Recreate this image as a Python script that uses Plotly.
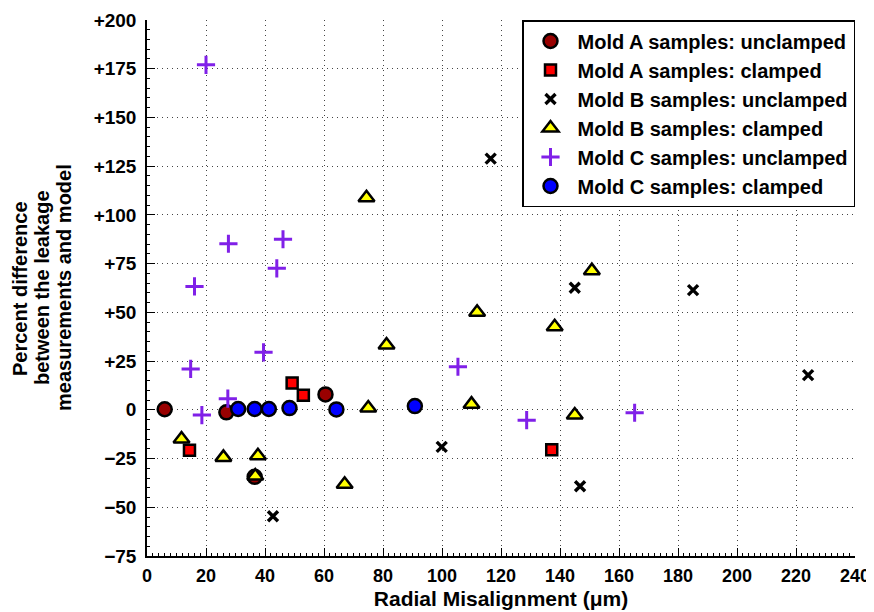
import plotly.graph_objects as go

# ---- data ----
a_unc_x = [6.0, 26.9, 36.5, 60.5]
a_unc_y = [0.3, -1.3, -34.4, 7.9]

a_cl_x = [14.4, 49.2, 53.0, 137.2]
a_cl_y = [-20.7, 13.7, 7.5, -20.5]

b_unc_x = [116.5, 145.0, 185.1, 224.1, 146.8, 99.9, 42.7]
b_unc_y = [128.9, 62.6, 61.4, 17.8, -39.2, -19.0, -54.6]

b_cl_x = [74.4, 111.9, 81.2, 150.8, 138.2, 145.0, 75.0, 110.0, 11.7, 25.9, 37.6, 36.7, 67.0]
b_cl_y = [108.8, 50.0, 33.2, 71.4, 42.6, -2.7, 0.9, 2.9, -15.0, -24.4, -23.6, -34.0, -38.2]

c_unc_x = [20.0, 27.6, 46.1, 44.0, 16.1, 39.5, 14.8, 105.4, 27.4, 18.6, 128.7, 165.3]
c_unc_y = [177.0, 85.2, 87.5, 72.6, 63.3, 29.5, 21.0, 22.1, 5.7, -2.7, -5.3, -1.5]

c_cl_x = [30.9, 36.5, 41.3, 48.3, 64.2, 90.8]
c_cl_y = [0.4, 0.4, 0.4, 0.9, 0.2, 1.9]

x_ticks = list(range(0, 241, 20))
y_ticks = [200, 175, 150, 125, 100, 75, 50, 25, 0, -25, -50, -75]
y_tick_text = ["+200", "+175", "+150", "+125", "+100", "+75", "+50", "+25", "0",
               "\u221225", "\u221250", "\u221275"]

x_title = "Radial Misalignment (\u03bcm)"
y_title_lines = ["Percent difference", "between the leakage", "measurements and model"]

FONT = "Liberation Sans"

fig = go.Figure()

def add(name, xs, ys, symbol, size, fill, lw, lc="black"):
    fig.add_trace(go.Scatter(
        x=xs, y=ys, mode="markers", name=name,
        marker=dict(symbol=symbol, size=size, color=fill,
                    line=dict(width=lw, color=lc)),
    ))

add("Mold A samples: unclamped", a_unc_x, a_unc_y, "circle", 14, "#990000", 2.5)
add("Mold A samples: clamped", a_cl_x, a_cl_y, "square", 11, "#ff0000", 2.5)
add("Mold B samples: unclamped", b_unc_x, b_unc_y, "x-thin", 10, "black", 3.4)
add("Mold B samples: clamped", b_cl_x, b_cl_y, "triangle-up", 14, "#ffff00", 2.5)
add("Mold C samples: unclamped", c_unc_x, c_unc_y, "cross-thin", 13, "#8020e8", 3, lc="#8020e8")
add("Mold C samples: clamped", c_cl_x, c_cl_y, "circle", 14, "#0000ff", 2.5)

axis_common = dict(
    showline=True, linecolor="black", linewidth=1.5,
    ticks="inside", ticklen=8, tickwidth=1, tickcolor="black",
    showgrid=True, gridcolor="#444444", gridwidth=1, griddash="1px,4px",
    zeroline=False, mirror=False,
)

fig.update_xaxes(
    range=[0, 240], tickvals=x_ticks, ticktext=[str(v) for v in x_ticks],
    minor=dict(ticks="inside", ticklen=3, dtick=2, tickcolor="black", showgrid=False),
    tickfont=dict(family=FONT, size=18, color="black", weight="bold"),
    ticklabelstandoff=3,
    title=dict(text=x_title, standoff=6,
               font=dict(family=FONT, size=21, color="black", weight="bold")),
    **axis_common,
)
fig.update_yaxes(
    range=[-75, 200], tickvals=y_ticks, ticktext=y_tick_text,
    minor=dict(ticks="inside", ticklen=3, dtick=5, tickcolor="black", showgrid=False),
    tickfont=dict(family=FONT, size=19, color="black", weight="bold"),
    ticklabelstandoff=5,
    **axis_common,
)

# page body adds an 8 px margin, so the figure is offset by 8 px
OFF = 8
PLOT_L, PLOT_R, PLOT_T, PLOT_B = 147, 855, 20, 556   # plot area in page pixels
FIG_W, FIG_H = 874 - OFF, 612 - OFF
PLOT_W = PLOT_R - PLOT_L

# y-axis title as three rotated lines (tight MATLAB-like line spacing)
for line, px in zip(y_title_lines, [20, 42, 64]):
    fig.add_annotation(
        text=line, textangle=-90, showarrow=False,
        xref="paper", yref="paper",
        x=(px - PLOT_L) / PLOT_W, y=0.5, xanchor="center", yanchor="middle",
        font=dict(family=FONT, size=20, color="black", weight="bold"),
    )

fig.update_layout(
    width=FIG_W, height=FIG_H,
    margin=dict(l=PLOT_L - OFF, r=FIG_W - (PLOT_R - OFF), t=PLOT_T - OFF,
                b=FIG_H - (PLOT_B - OFF), autoexpand=False),
    paper_bgcolor="white", plot_bgcolor="white",
    showlegend=True,
    legend=dict(
        x=1, y=1, xanchor="right", yanchor="top",
        bgcolor="white", bordercolor="black", borderwidth=1.5,
        font=dict(family=FONT, size=20, color="black", weight="bold"),
        itemsizing="trace", itemwidth=44,
    ),
)

fig.write_html("out.html")
